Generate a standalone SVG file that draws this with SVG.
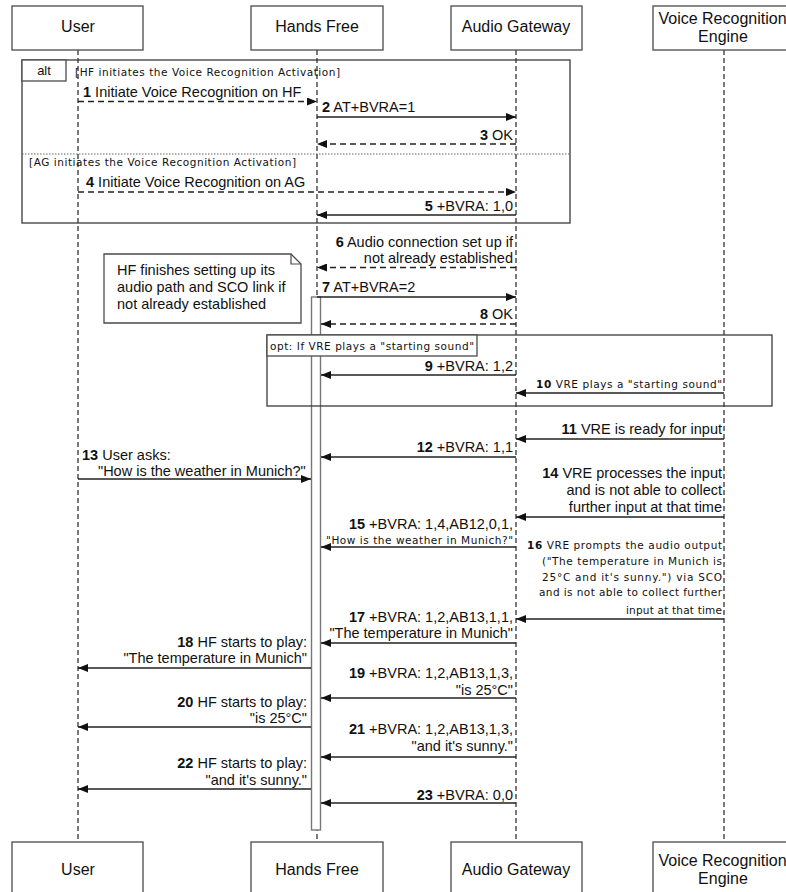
<svg xmlns="http://www.w3.org/2000/svg" width="786" height="892" viewBox="0 0 786 892">
<defs>
<marker id="ah" viewBox="0 0 10 8" refX="10" refY="4" markerWidth="10" markerHeight="8" markerUnits="userSpaceOnUse" orient="auto">
<path d="M0,0 L10,4 L0,8 Z" fill="#111"/>
</marker>
<style>
text{font-family:"Liberation Sans",Arial,sans-serif;fill:#111}
.hd{font-size:16px;text-anchor:middle}
.box{fill:#fff;stroke:#4a4a4a;stroke-width:1.3}
.life{stroke:#222;stroke-width:1.2;stroke-dasharray:5,3;fill:none}
.m{font-size:14.5px}
.s{font-size:10.5px;font-family:"DejaVu Sans",Verdana,sans-serif}
.e{text-anchor:end}
.n{font-weight:bold}
.sol{stroke:#222;stroke-width:1.3;fill:none;marker-end:url(#ah)}
.dsh{stroke:#222;stroke-width:1.3;fill:none;stroke-dasharray:6,4;marker-end:url(#ah)}
.frame{fill:none;stroke:#3a3a3a;stroke-width:1.3}
</style>
</defs>
<rect width="786" height="892" fill="#fff"/>

<g id="user">
<line class="life" x1="78" y1="50" x2="78" y2="842"/>
<rect class="box" x="12" y="6" width="131" height="44"/>
<text class="hd" x="78" y="32">User</text>
<rect class="box" x="12" y="842" width="131" height="60"/>
<text class="hd" x="78" y="875">User</text>
</g>
<g id="hands-free">
<line class="life" x1="317" y1="50" x2="317" y2="842"/>
<rect class="box" x="251" y="6" width="132" height="44"/>
<text class="hd" x="317" y="32">Hands Free</text>
<rect class="box" x="251" y="842" width="132" height="60"/>
<text class="hd" x="317" y="875">Hands Free</text>
</g>
<g id="audio-gateway">
<line class="life" x1="516" y1="50" x2="516" y2="842"/>
<rect class="box" x="451" y="6" width="131" height="44"/>
<text class="hd" x="516" y="32">Audio Gateway</text>
<rect class="box" x="451" y="842" width="131" height="60"/>
<text class="hd" x="516" y="875">Audio Gateway</text>
</g>
<g id="vre">
<line class="life" x1="724" y1="50" x2="724" y2="842"/>
<rect class="box" x="653" y="6" width="142" height="44"/>
<text class="hd" x="722.5" y="24">Voice Recognition</text>
<text class="hd" x="723" y="42">Engine</text>
<rect class="box" x="653" y="842" width="142" height="60"/>
<text class="hd" x="722.5" y="866">Voice Recognition</text>
<text class="hd" x="723" y="884">Engine</text>
</g>

<g id="alt-frame">
<rect class="frame" x="22" y="60" width="548" height="163"/>
<rect class="box" x="22" y="60" width="44" height="21"/>
<text x="44" y="75" font-size="13" text-anchor="middle">alt</text>
<text class="s" x="75" y="76" textLength="265" lengthAdjust="spacing">[HF initiates the Voice Recognition Activation]</text>
<line x1="22" y1="154" x2="570" y2="154" stroke="#666" stroke-width="1.2" stroke-dasharray="1.5,1.5"/>
<text class="s" x="29" y="166" textLength="267" lengthAdjust="spacing">[AG initiates the Voice Recognition Activation]</text>
</g>

<g id="note">
<path class="box" d="M104,254 H291 L301,264 V323 H104 Z"/>
<path d="M291,254 V264 H301" fill="none" stroke="#4a4a4a" stroke-width="1.2"/>
<text class="m" x="117" y="275">HF finishes setting up its</text>
<text class="m" x="117" y="292">audio path and SCO link if</text>
<text class="m" x="117" y="309">not already established</text>
</g>

<g id="activation">
<rect x="311.5" y="297" width="9" height="533" fill="#fff" stroke="#777" stroke-width="1.4"/>
</g>

<g id="opt-frame">
<rect class="frame" x="267" y="335" width="505" height="71"/>
<rect class="box" x="267" y="335" width="210" height="21"/>
<text class="s" x="270" y="350" textLength="204" lengthAdjust="spacing">opt: If VRE plays a "starting sound"</text>
</g>

<g id="connectors">
<line class="dsh" x1="78" y1="101.5" x2="317" y2="101.5"/>
<text class="m" x="83" y="97"><tspan class="n">1</tspan> Initiate Voice Recognition on HF</text>

<line class="sol" x1="317" y1="117" x2="516" y2="117"/>
<text class="m" x="322" y="112"><tspan class="n">2</tspan> AT+BVRA=1</text>

<line class="dsh" x1="516" y1="144" x2="317" y2="144"/>
<text class="m e" x="513" y="140"><tspan class="n">3</tspan> OK</text>

<line class="dsh" x1="78" y1="192" x2="516" y2="192"/>
<text class="m" x="86" y="187"><tspan class="n">4</tspan> Initiate Voice Recognition on AG</text>

<line class="sol" x1="516" y1="215" x2="317" y2="215"/>
<text class="m e" x="513" y="211"><tspan class="n">5</tspan> +BVRA: 1,0</text>

<line class="dsh" x1="516" y1="267.5" x2="317" y2="267.5"/>
<text class="m e" x="513" y="247"><tspan class="n">6</tspan> Audio connection set up if</text>
<text class="m e" x="513" y="263">not already established</text>

<line class="sol" x1="317" y1="297" x2="516" y2="297"/>
<text class="m" x="322" y="292"><tspan class="n">7</tspan> AT+BVRA=2</text>

<line class="dsh" x1="516" y1="324" x2="321" y2="324"/>
<text class="m e" x="513" y="319"><tspan class="n">8</tspan> OK</text>

<line class="sol" x1="516" y1="375" x2="321" y2="375"/>
<text class="m e" x="513" y="371"><tspan class="n">9</tspan> +BVRA: 1,2</text>

<line class="sol" x1="724" y1="393" x2="516" y2="393"/>
<text class="s e" x="722" y="388" textLength="186" lengthAdjust="spacing"><tspan class="n">10</tspan> VRE plays a "starting sound"</text>

<line class="sol" x1="724" y1="439" x2="516" y2="439"/>
<text class="m e" x="722" y="434"><tspan class="n">11</tspan> VRE is ready for input</text>

<line class="sol" x1="516" y1="457" x2="321" y2="457"/>
<text class="m e" x="513" y="452"><tspan class="n">12</tspan> +BVRA: 1,1</text>

<line class="sol" x1="78" y1="479" x2="311" y2="479"/>
<text class="m" x="82" y="460"><tspan class="n">13</tspan> User asks:</text>
<text class="m" x="98" y="476">"How is the weather in Munich?"</text>

<line class="sol" x1="724" y1="517" x2="516" y2="517"/>
<text class="m e" x="722" y="478"><tspan class="n">14</tspan> VRE processes the input</text>
<text class="m e" x="722" y="495">and is not able to collect</text>
<text class="m e" x="722" y="512">further input at that time</text>

<line class="sol" x1="516" y1="547" x2="321" y2="547"/>
<text class="m e" x="513" y="529"><tspan class="n">15</tspan> +BVRA: 1,4,AB12,0,1,</text>
<text class="s e" x="513" y="544" textLength="187" lengthAdjust="spacing">"How is the weather in Munich?"</text>

<line class="sol" x1="724" y1="619" x2="516" y2="619"/>
<text class="s e" x="722" y="549" textLength="195" lengthAdjust="spacing"><tspan class="n">16</tspan> VRE prompts the audio output</text>
<text class="s e" x="722" y="565" textLength="180" lengthAdjust="spacing">("The temperature in Munich is</text>
<text class="s e" x="722" y="581" textLength="180" lengthAdjust="spacing">25°C and it's sunny.") via SCO</text>
<text class="s e" x="722" y="596" textLength="183" lengthAdjust="spacing">and is not able to collect further</text>
<text class="s e" x="722" y="614" textLength="96" lengthAdjust="spacing">input at that time</text>

<line class="sol" x1="516" y1="643" x2="321" y2="643"/>
<text class="m e" x="513" y="622"><tspan class="n">17</tspan> +BVRA: 1,2,AB13,1,1,</text>
<text class="m e" x="513" y="638">"The temperature in Munich"</text>

<line class="sol" x1="311" y1="668" x2="78" y2="668"/>
<text class="m e" x="307" y="647"><tspan class="n">18</tspan> HF starts to play:</text>
<text class="m e" x="307" y="663">"The temperature in Munich"</text>

<line class="sol" x1="516" y1="698" x2="321" y2="698"/>
<text class="m e" x="513" y="678"><tspan class="n">19</tspan> +BVRA: 1,2,AB13,1,3,</text>
<text class="m e" x="513" y="695">"is 25°C"</text>

<line class="sol" x1="311" y1="727" x2="78" y2="727"/>
<text class="m e" x="307" y="707"><tspan class="n">20</tspan> HF starts to play:</text>
<text class="m e" x="307" y="723">"is 25°C"</text>

<line class="sol" x1="516" y1="757" x2="321" y2="757"/>
<text class="m e" x="513" y="734"><tspan class="n">21</tspan> +BVRA: 1,2,AB13,1,3,</text>
<text class="m e" x="513" y="751">"and it's sunny."</text>

<line class="sol" x1="311" y1="789" x2="78" y2="789"/>
<text class="m e" x="307" y="768"><tspan class="n">22</tspan> HF starts to play:</text>
<text class="m e" x="307" y="785">"and it's sunny."</text>

<line class="sol" x1="516" y1="803" x2="321" y2="803"/>
<text class="m e" x="513" y="800"><tspan class="n">23</tspan> +BVRA: 0,0</text>
</g>
</svg>
